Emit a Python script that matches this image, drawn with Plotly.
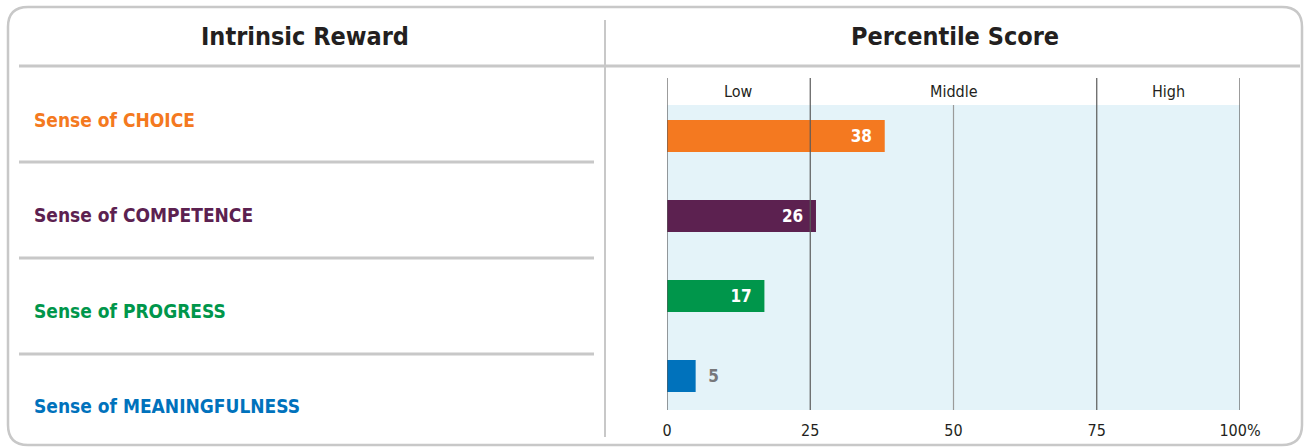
import plotly.graph_objects as go

# ---- data ----
categories = ["CHOICE", "COMPETENCE", "PROGRESS", "MEANINGFULNESS"]
values = [38, 26, 17, 5]
bar_colors = ["#F47920", "#5C2150", "#00964B", "#0072BC"]
tick_vals = [0, 25, 50, 75, 100]
tick_text = ["0", "25", "50", "75", "100%"]
band_labels = ["Low", "Middle", "High"]
band_centers = [12.5, 50, 87.5]
title_left = "Intrinsic Reward"
title_right = "Percentile Score"

W, H = 1309, 448
def px(x): return x / W
def py(y): return 1 - y / H

FONT = "DejaVu Sans Condensed"
GRAY = "#c8c8c8"
NB = "\u00a0"

inside = [v >= 10 for v in values]
labels = [f"<b>{v}</b>{NB*2}" if ins else f"{NB*2}<b>{v}</b>" for v, ins in zip(values, inside)]

fig = go.Figure()
fig.add_trace(go.Bar(
    x=values, y=list(range(len(categories))), orientation="h",
    marker=dict(color=bar_colors, line=dict(width=0)),
    width=0.4,
    text=labels,
    textposition=["inside" if ins else "outside" for ins in inside],
    insidetextanchor="end",
    textfont=dict(family=FONT, size=17, color=["white" if ins else "#77787b" for ins in inside]),
    cliponaxis=False, hoverinfo="skip",
))

# plot area: x 667..1240, y 105..410 px
fig.update_layout(
    template="none",
    width=W, height=H, autosize=False, margin=dict(l=0, r=0, t=0, b=0, pad=0, autoexpand=False),
    paper_bgcolor="white", plot_bgcolor="#E4F3F9",
    showlegend=False,
    xaxis=dict(domain=[px(667), px(1240)], range=[0, 100], tickvals=tick_vals, ticktext=tick_text,
               showgrid=False, zeroline=False, showline=False, ticks="", ticklabelstandoff=9,
               automargin=False,
               tickfont=dict(family=FONT, size=16, color="#231f20"), fixedrange=True),
    yaxis=dict(domain=[py(410), py(105)], range=[3.425, -0.3875], showgrid=False, zeroline=False,
               showline=False, automargin=False,
               showticklabels=False, ticks="", fixedrange=True),
)

shapes = []
# outer rounded box
x0, x1, y0, y1, r = 8, 1302, 7, 445, 20
rx, ry = r / W, r / H
X0, X1, Y0, Y1 = px(x0), px(x1), py(y0), py(y1)
path = (f"M {X0+rx},{Y0} L {X1-rx},{Y0} Q {X1},{Y0} {X1},{Y0-ry} "
        f"L {X1},{Y1+ry} Q {X1},{Y1} {X1-rx},{Y1} L {X0+rx},{Y1} Q {X0},{Y1} {X0},{Y1+ry} "
        f"L {X0},{Y0-ry} Q {X0},{Y0} {X0+rx},{Y0} Z")
shapes.append(dict(type="path", path=path, xref="paper", yref="paper", line=dict(color=GRAY, width=2.5)))
# header separator
shapes.append(dict(type="line", xref="paper", yref="paper", x0=px(19), x1=px(1300), y0=py(66), y1=py(66),
                   line=dict(color=GRAY, width=3)))
# vertical separator
shapes.append(dict(type="line", xref="paper", yref="paper", x0=px(605), x1=px(605), y0=py(20), y1=py(437),
                   line=dict(color=GRAY, width=2)))
# row separators
for yy in [162, 258, 354]:
    shapes.append(dict(type="line", xref="paper", yref="paper", x0=px(19), x1=px(594), y0=py(yy), y1=py(yy),
                       line=dict(color=GRAY, width=3)))
# vertical grid lines
for v in tick_vals:
    top = 105 if v == 50 else 78
    col = "#9a9a9a" if v == 50 else "#5a5a5a"
    shapes.append(dict(type="line", xref="x", yref="paper", x0=v, x1=v, y0=py(top), y1=py(410),
                       line=dict(color=col, width=1.2), layer="above"))
fig.update_layout(shapes=shapes)

ann = []
for t, cx in [(title_left, 305), (title_right, 955)]:
    ann.append(dict(text=f"<b>{t}</b>", x=px(cx), y=py(37), xref="paper", yref="paper",
                    xanchor="center", yanchor="middle",
                    showarrow=False, font=dict(family=FONT, size=25, color="#231f20")))
for lab, cx in zip(band_labels, band_centers):
    ann.append(dict(text=lab, x=cx, y=py(91), xref="x", yref="paper", showarrow=False,
                    xanchor="center", yanchor="middle",
                    font=dict(family=FONT, size=16, color="#231f20")))
for cat, col, yy in zip(categories, bar_colors, [120, 215, 311, 406]):
    ann.append(dict(text=f"<b>Sense of {cat}</b>", x=px(32), y=py(yy), xref="paper", yref="paper",
                    xanchor="left", yanchor="middle",
                    showarrow=False, font=dict(family=FONT, size=19, color=col)))
fig.update_layout(annotations=ann)

fig.write_html("out.html", config={"displayModeBar": False},
               post_script=("document.body.style.margin='0';"
                            "document.documentElement.style.overflow='hidden';"))
